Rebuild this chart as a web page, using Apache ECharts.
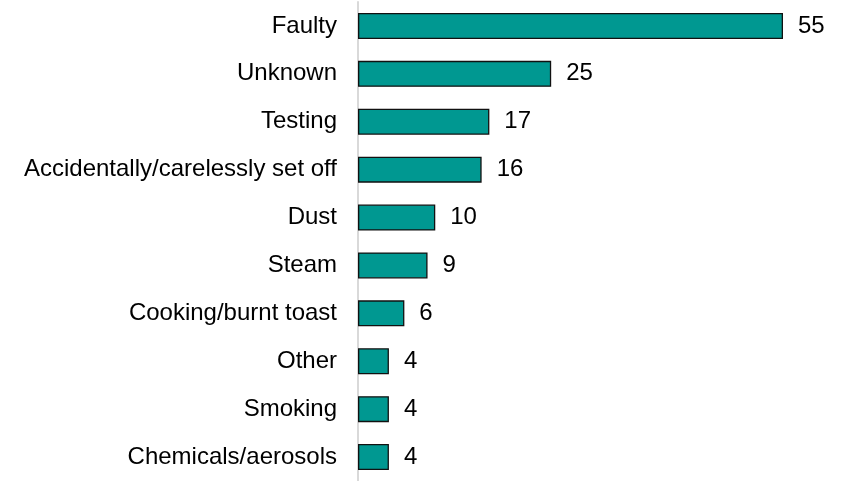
<!DOCTYPE html>
<html><head><meta charset="utf-8">
<script src="https://cdn.jsdelivr.net/npm/echarts@6/dist/echarts.min.js"></script>
<style>html,body{margin:0;padding:0;background:#fff}#c{width:850px;height:481px}</style>
</head><body><div id="c"></div>
<script>
const categories = ["Faulty","Unknown","Testing","Accidentally/carelessly set off","Dust","Steam","Cooking/burnt toast","Other","Smoking","Chemicals/aerosols"];
const values = [55,25,17,16,10,9,6,4,4,4];

const chart = echarts.init(document.getElementById('c'), null, {renderer:'canvas'});
chart.setOption({
  animation:false,
  grid:{left:358, top:2, width:425, height:488, containLabel:false},
  xAxis:{type:'value', min:0, max:55, show:false},
  yAxis:{type:'category', inverse:true, data:categories,
    axisLine:{show:true, lineStyle:{color:'#d9d9d9', width:2}},
    axisTick:{show:false},
    axisLabel:{color:'#000', fontFamily:'Liberation Sans, Arial', fontSize:24, margin:21}
  },
  series:[{type:'bar', data:values, barWidth:26,
    itemStyle:{color:'#009891', borderColor:'#111', borderWidth:1.3},
    label:{show:true, position:'right', distance:15, color:'#000', fontFamily:'Liberation Sans, Arial', fontSize:24}
  }]
});
</script></body></html>
